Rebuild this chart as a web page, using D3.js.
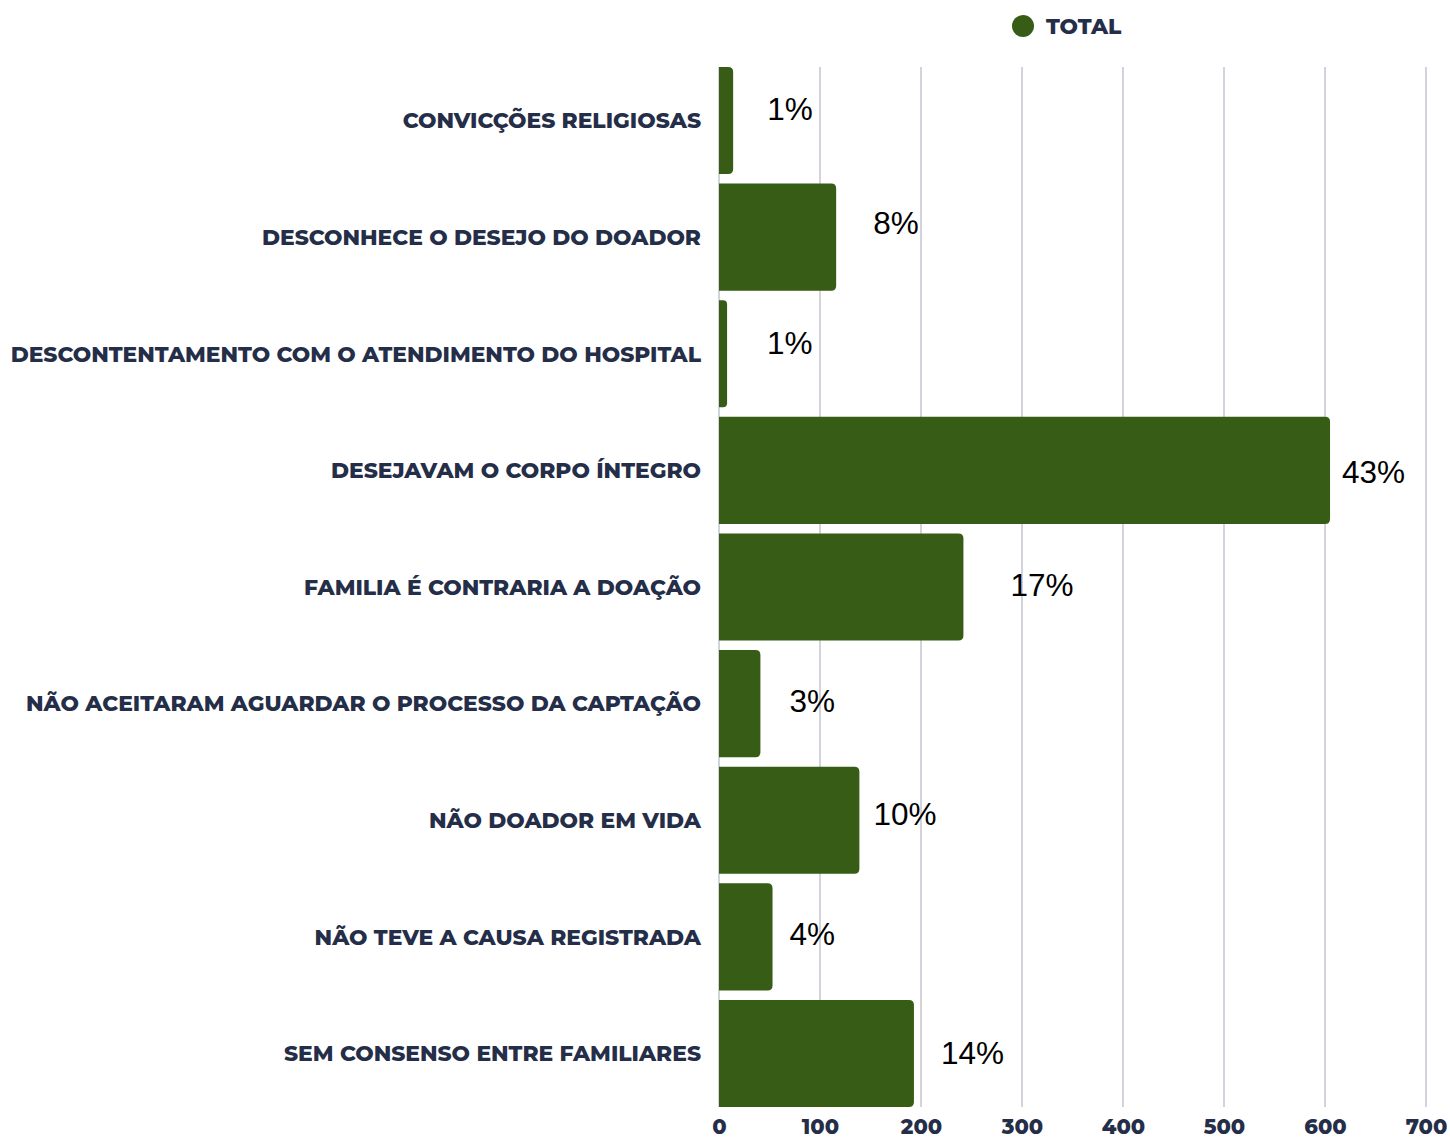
<!DOCTYPE html>
<html>
<head>
<meta charset="utf-8">
<script src="https://cdn.jsdelivr.net/npm/d3@7"></script>
<style>
  body { margin: 0; background: #fff; }
  svg { display: block; }
</style>
</head>
<body>
<svg id="chart" width="1450" height="1138"></svg>
<script>
// data
const categories = [
  "CONVICÇÕES RELIGIOSAS",
  "DESCONHECE O DESEJO DO DOADOR",
  "DESCONTENTAMENTO COM O ATENDIMENTO DO HOSPITAL",
  "DESEJAVAM O CORPO ÍNTEGRO",
  "FAMILIA É CONTRARIA A DOAÇÃO",
  "NÃO ACEITARAM AGUARDAR O PROCESSO DA CAPTAÇÃO",
  "NÃO DOADOR EM VIDA",
  "NÃO TEVE A CAUSA REGISTRADA",
  "SEM CONSENSO ENTRE FAMILIARES"
];
const totals = [14, 116, 8, 605, 242, 41, 139, 53, 193];
const xTicks = [0, 100, 200, 300, 400, 500, 600, 700];
const seriesName = "TOTAL";

// label nudges (the original chart shifts its value labels around)
const labelDx = [34, 37, 40, 12, 47, 29, 14, 17, 27];
const labelDy = [-12, -14, -11, 1, -2, -3, -7, -3, -1];

const green = "#365c15";
const ink = "#252e48";
const labelFont = "Montserrat, Inter, 'Open Sans', sans-serif";

const margin = {top: 67, right: 24, bottom: 31, left: 719};
const width = 1450, height = 1138;

const svg = d3.select("#chart");

const x = d3.scaleLinear()
  .domain([0, 700])
  .range([margin.left, 1426]);

const y = d3.scaleBand()
  .domain(categories)
  .range([margin.top, height - margin.bottom])
  .paddingInner(0.082)
  .paddingOuter(0);

const sum = d3.sum(totals);

// grid
svg.append("g")
  .selectAll("line")
  .data(xTicks)
  .join("line")
  .attr("x1", d => x(d)).attr("x2", d => x(d))
  .attr("y1", margin.top).attr("y2", height - margin.bottom)
  .attr("stroke", "#d3d3db")
  .attr("stroke-width", 2);

// bars, right corners rounded
const r = 5;
svg.append("g")
  .selectAll("path")
  .data(totals)
  .join("path")
  .attr("fill", green)
  .attr("d", (d, i) => {
    const x0 = x(0), x1 = x(d), y0 = y(categories[i]), h = y.bandwidth();
    const rr = Math.min(r, (x1 - x0) / 2);
    return `M${x0},${y0}H${x1 - rr}Q${x1},${y0} ${x1},${y0 + rr}V${y0 + h - rr}Q${x1},${y0 + h} ${x1 - rr},${y0 + h}H${x0}Z`;
  });

// category labels
svg.append("g")
  .selectAll("text")
  .data(categories)
  .join("text")
  .attr("x", margin.left - 18)
  .attr("y", d => y(d) + y.bandwidth() / 2)
  .attr("dy", "0.36em")
  .attr("text-anchor", "end")
  .attr("fill", ink)
  .style("font-family", labelFont)
  .style("font-weight", 800)
  .style("font-size", "21.8px")
  .text(d => d);

// value labels
svg.append("g")
  .selectAll("text")
  .data(totals)
  .join("text")
  .attr("x", (d, i) => x(d) + labelDx[i])
  .attr("y", (d, i) => y(categories[i]) + y.bandwidth() / 2 + labelDy[i])
  .attr("dy", "0.36em")
  .attr("fill", "#000")
  .style("font-family", "'Liberation Sans', Arial, sans-serif")
  .style("font-size", "31.5px")
  .text(d => Math.round(d / sum * 100) + "%");

// x axis
const xAxis = svg.append("g")
  .attr("transform", `translate(0,${height - margin.bottom})`)
  .call(d3.axisBottom(x).tickValues(xTicks).tickSize(0).tickPadding(12));
xAxis.select(".domain").remove();
xAxis.selectAll("text")
  .attr("fill", ink)
  .style("font-family", labelFont)
  .style("font-weight", 800)
  .style("font-size", "21px");

// legend
const legend = svg.append("g");
legend.append("circle")
  .attr("cx", 1023).attr("cy", 26).attr("r", 11)
  .attr("fill", green);
legend.append("text")
  .attr("x", 1046).attr("y", 26)
  .attr("dy", "0.36em")
  .attr("fill", ink)
  .style("font-family", labelFont)
  .style("font-weight", 800)
  .style("font-size", "21.8px")
  .text(seriesName);
</script>
</body>
</html>
